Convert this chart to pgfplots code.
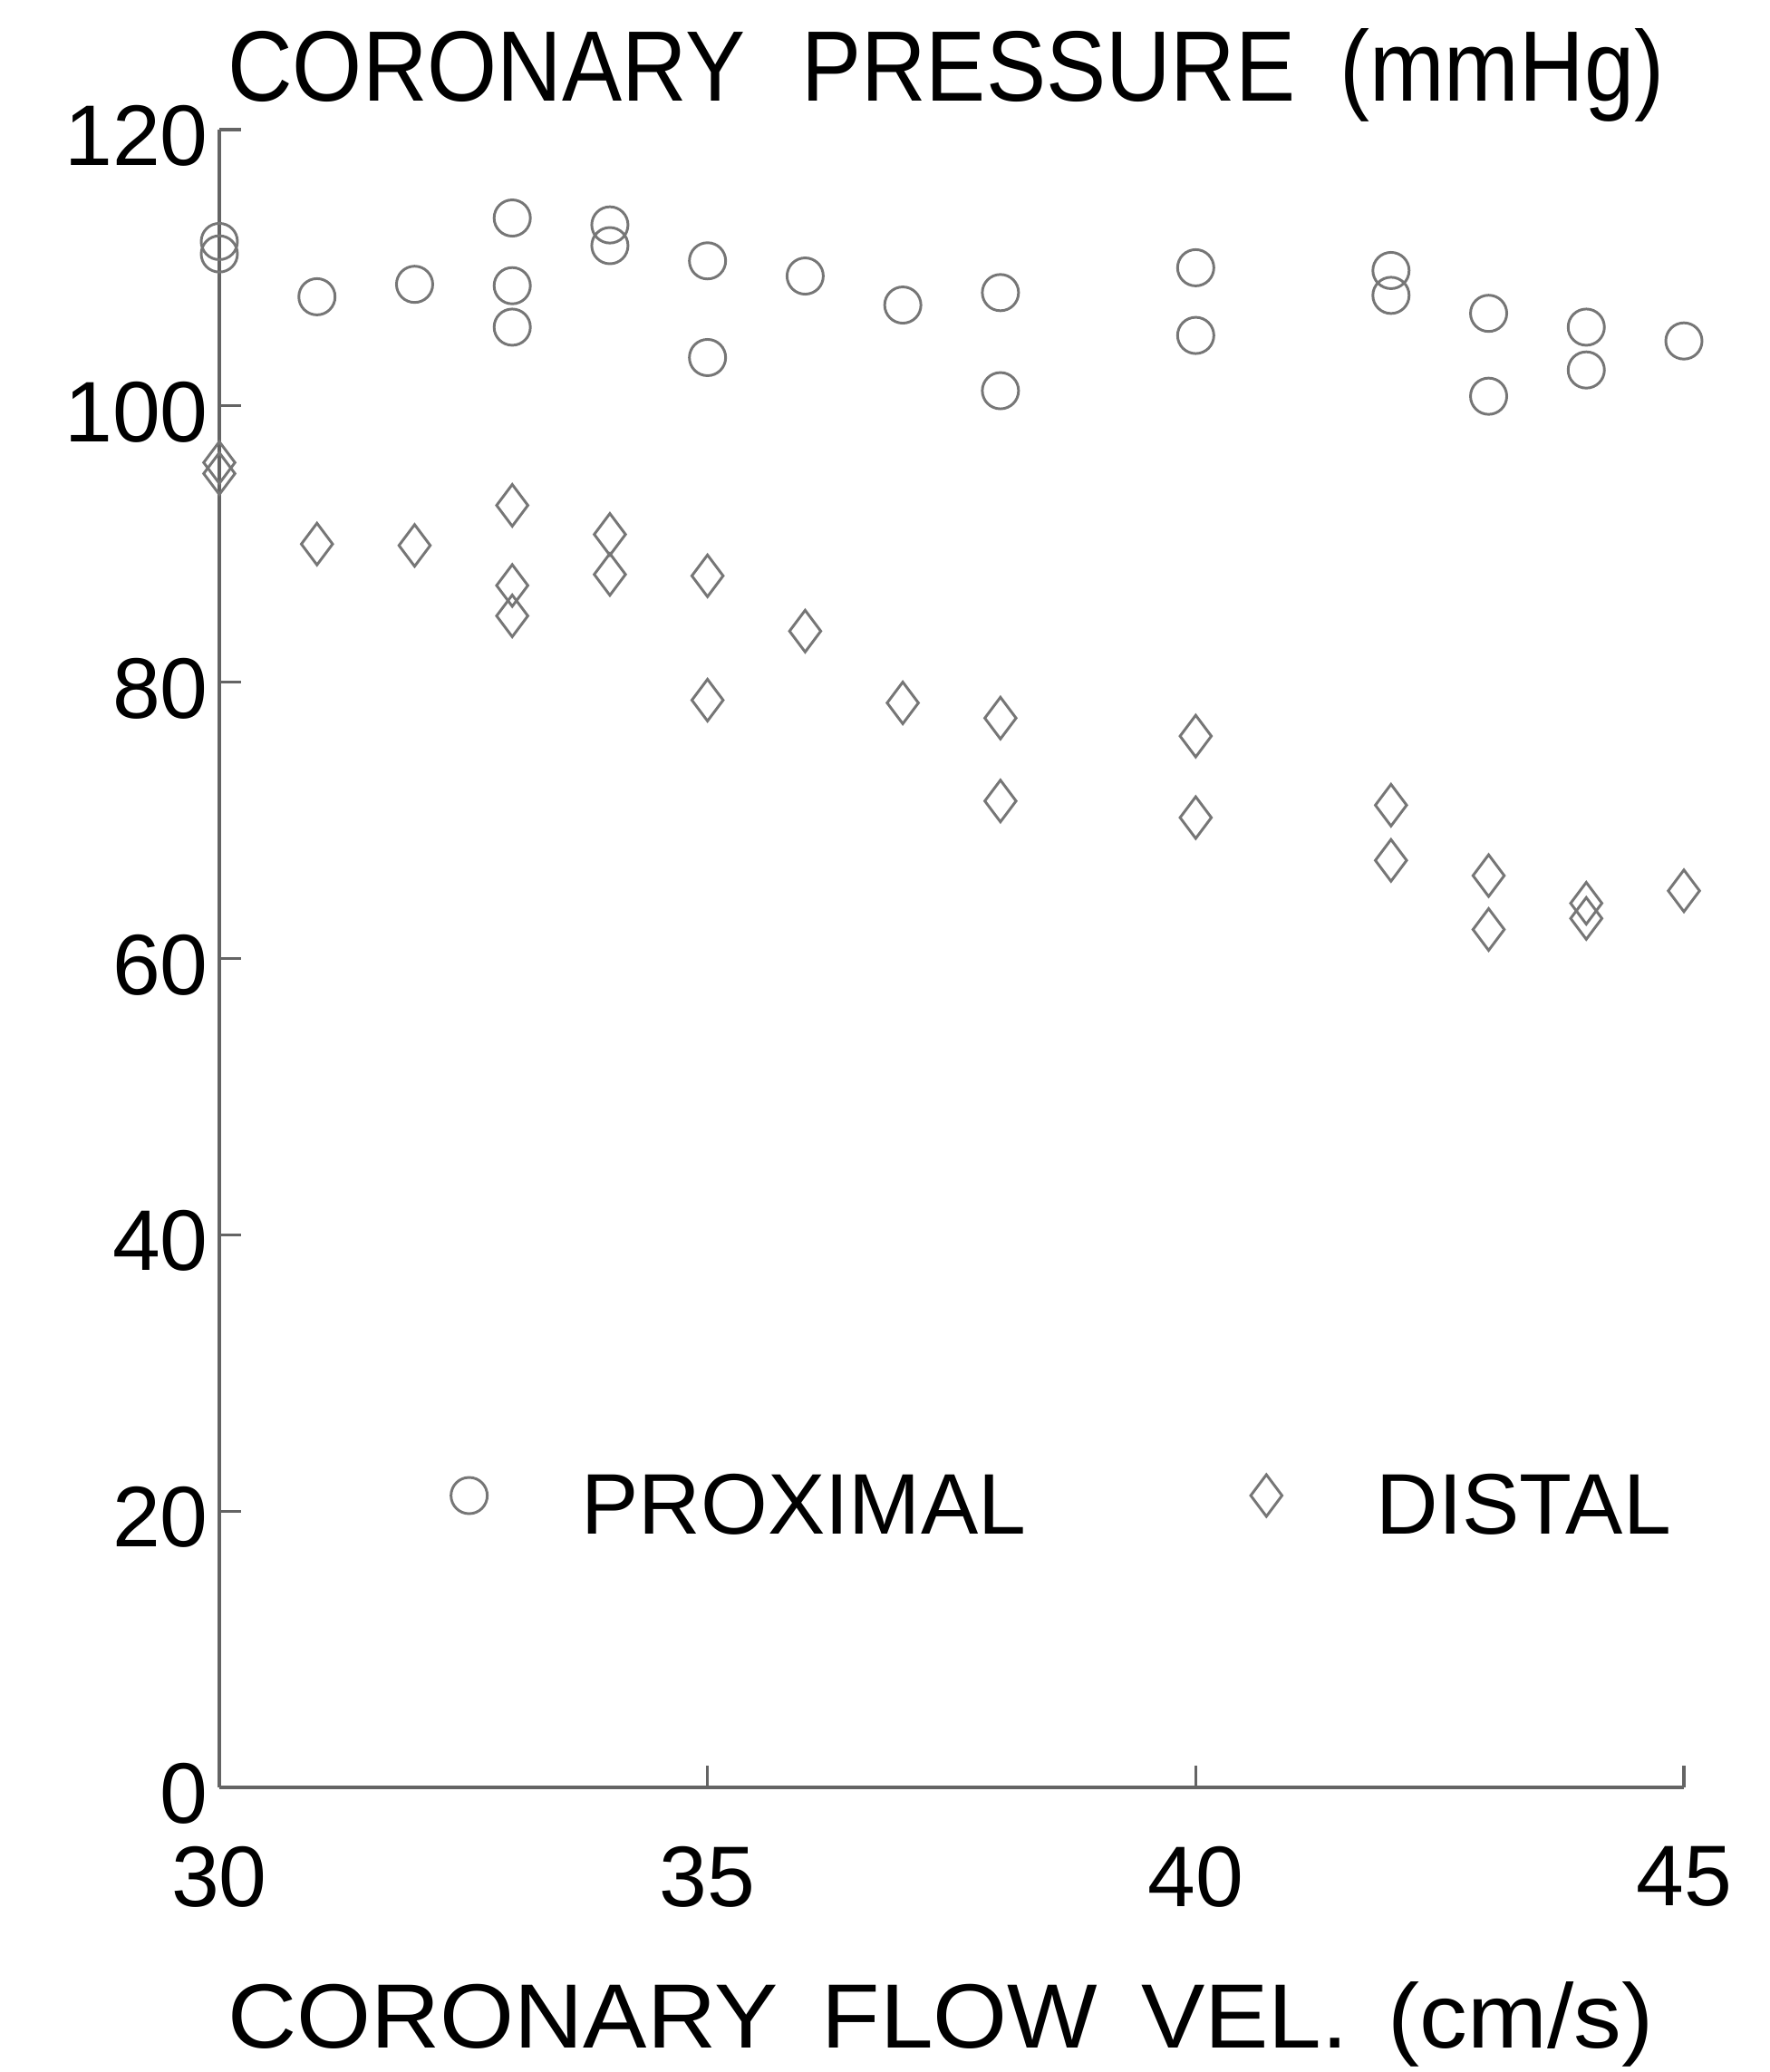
\documentclass[border=0pt]{standalone}
\usepackage{fontspec}
\setmainfont{Liberation Sans}
\usepackage{pgfplots}
\pgfplotsset{compat=1.18}
\definecolor{mk}{RGB}{118,118,118}
\definecolor{ax}{RGB}{100,100,100}
\begin{document}
\begin{tikzpicture}
\begin{axis}[
  at={(0,0)}, anchor=south west,
  scale only axis, width=80.8mm, height=91.45mm,
  xmin=30, xmax=45, ymin=0, ymax=120,
  axis lines=left, axis line style={-, draw=ax, line width=0.45pt},
  xtick={30,35,40,45}, ytick={0,20,...,120},
  tick align=inside, major tick length=1.2mm,
  tick style={draw=ax, line width=0.45pt},
  /pgf/number format/assume math mode=true,
  ticklabel style={font=\fontsize{13.5}{16}\selectfont, inner sep=0pt},
  xticklabel style={anchor=north, yshift=-3.2mm},
  yticklabel style={anchor=east, xshift=-0.55mm, yshift=-0.35mm},
  clip=false,
  legend columns=2, legend cell align=left,
  legend image code/.code={\draw[#1] plot coordinates {(0mm,0.75mm)};},
  legend style={at={(axis cs:32.36,20.14)}, anchor=west, draw=none, fill=none,
    inner sep=0pt, column sep=5.2mm,
    /tikz/every even column/.append style={column sep=12.4mm},
    nodes={inner sep=0pt},
    font=\fontsize{13.5}{16}\selectfont},
]
\addplot[only marks, mark=o, mark size=1.0mm, mark options={draw=mk, line width=0.42pt}]
coordinates {
(30,111.9) (30,111.0) (31,107.9) (32,108.8) (33,113.6) (33,108.7) (33,105.7)
(34,113.1) (34,111.6) (35,110.5) (35,103.5) (36,109.4) (37,107.3) (38,108.2)
(38,101.1) (40,110.0) (40,105.1) (42,109.8) (42,108.0) (43,106.7) (43,100.7)
(44,105.7) (44,102.6) (45,104.7)
};
\addlegendentry{PROXIMAL}
\addplot[only marks, mark=diamond, mark size=1.15mm, mark options={draw=mk, line width=0.42pt}]
coordinates {
(30,95.9) (30,95.1) (31,90.0) (32,89.9) (33,92.8) (33,87.0) (33,84.8)
(34,90.7) (34,87.8) (35,87.7) (35,78.7) (36,83.7) (37,78.5) (38,77.4)
(38,71.4) (40,76.1) (40,70.2) (42,71.1) (42,67.1) (43,66.0) (43,62.1)
(44,64.0) (44,62.9) (45,64.9)
};
\addlegendentry{DISTAL}
\node[anchor=base west, inner sep=0pt, font=\fontsize{15}{18}\selectfont]
  at ([xshift=0.4mm,yshift=1.55mm]rel axis cs:0,1) {\scalebox{0.94}[1.047]{CORONARY\hspace{3.3mm}PRESSURE\hspace{2.6mm}(mmHg)}};
\node[anchor=base west, inner sep=0pt, font=\fontsize{15}{18}\selectfont]
  at ([xshift=0.4mm,yshift=-14.35mm]rel axis cs:0,0) {\scalebox{1.0}[0.955]{CORONARY\hspace{2.4mm}FLOW\hspace{2.4mm}VEL.\hspace{2.2mm}(cm/s)}};
\end{axis}
\pgfresetboundingbox
\path[use as bounding box] (-12.1mm,-15.7mm) rectangle (85.55mm,98.6mm);
\end{tikzpicture}
\end{document}
